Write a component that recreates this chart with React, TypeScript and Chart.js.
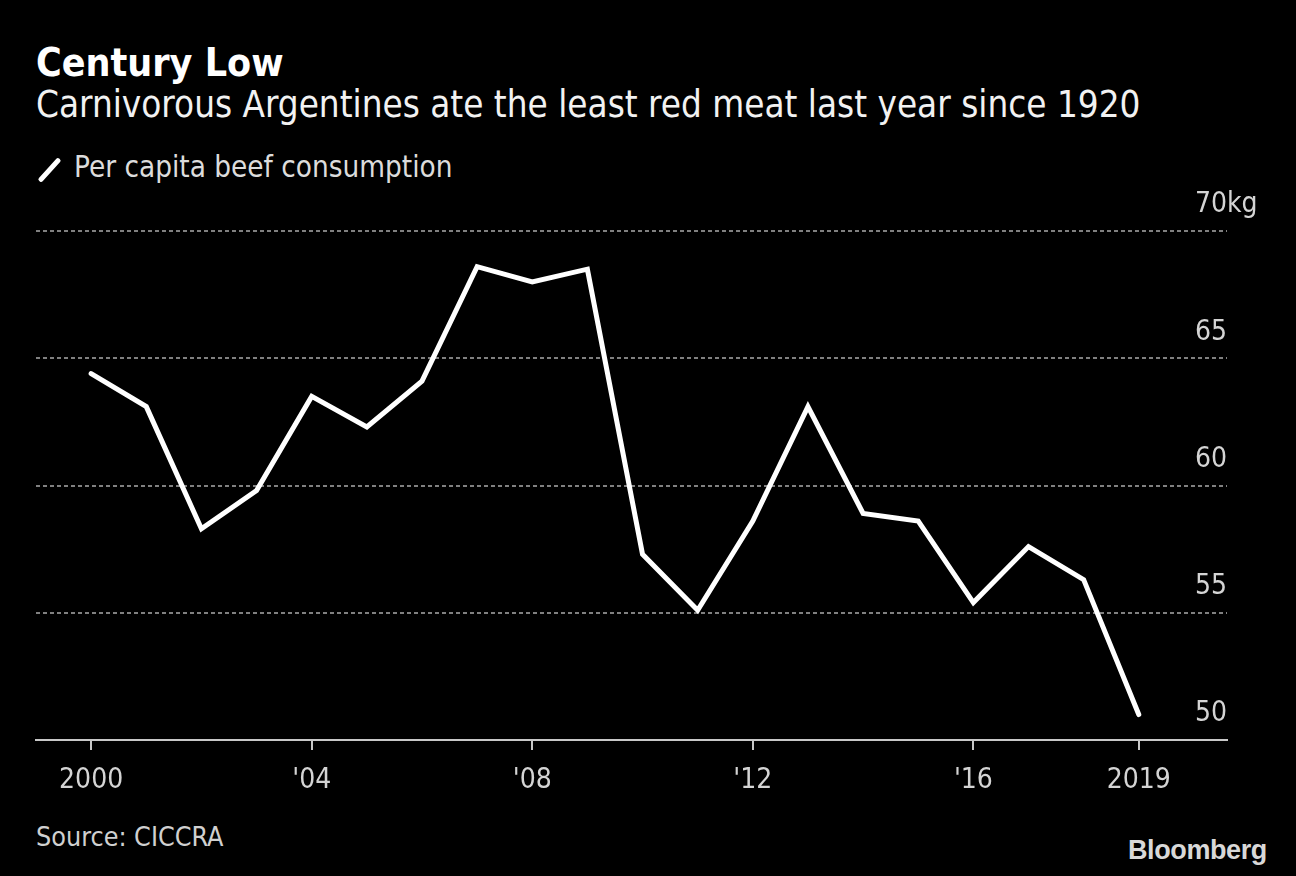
import React, { useEffect, useRef } from "react";
import { Chart, registerables } from "chart.js";

Chart.register(...registerables);

const years = [2000, 2001, 2002, 2003, 2004, 2005, 2006, 2007, 2008, 2009, 2010, 2011, 2012, 2013, 2014, 2015, 2016, 2017, 2018, 2019];
const beefKg = [64.4, 63.1, 58.3, 59.8, 63.5, 62.3, 64.1, 68.6, 68.0, 68.5, 57.3, 55.1, 58.6, 63.1, 58.9, 58.6, 55.4, 57.6, 56.3, 51.0];
const xTickValues = [2000, 2004, 2008, 2012, 2016, 2019];
const xTickLabels = ["2000", "'04", "'08", "'12", "'16", "2019"];
const yTickValues = [50, 55, 60, 65, 70];

const FONT = "'DejaVu Sans Condensed', 'DejaVu Sans', sans-serif";

const kgPlugin = {
  id: "kgSuffix",
  afterDraw(chart: any) {
    const y = chart.scales.y;
    const ctx = chart.ctx;
    ctx.save();
    ctx.font = `28px ${FONT}`;
    ctx.fillStyle = "#d4d4d4";
    ctx.textAlign = "left";
    ctx.textBaseline = "middle";
    ctx.fillText("kg", chart.chartArea.right, y.getPixelForValue(70) - 26);
    ctx.restore();
  },
};

export default function App() {
  const ref = useRef<HTMLCanvasElement>(null);
  useEffect(() => {
    if (!ref.current) return;
    const chart = new Chart(ref.current, {
      type: "line",
      data: {
        datasets: [
          {
            label: "Per capita beef consumption",
            data: years.map((yr, i) => ({ x: yr, y: beefKg[i] })),
            borderColor: "#ffffff",
            borderWidth: 5,
            pointRadius: 0,
            tension: 0,
            borderJoinStyle: "miter",
            borderCapStyle: "round",
          },
        ],
      },
      options: {
        responsive: false,
        animation: false,
        layout: { padding: { left: 36, right: 69, top: 51, bottom: 20 } },
        plugins: { legend: { display: false }, tooltip: { enabled: false } },
        scales: {
          x: {
            type: "linear",
            min: 1999,
            max: 2020.6,
            afterBuildTicks: (axis: any) => {
              axis.ticks = xTickValues.map((v) => ({ value: v }));
            },
            afterFit: (axis: any) => {
              axis.height = 60;
            },
            grid: { drawOnChartArea: false, drawTicks: true, tickLength: 10, color: "#c8c8c8", lineWidth: 2 },
            border: { display: true, color: "#c8c8c8", width: 2 },
            ticks: {
              autoSkip: false,
              maxRotation: 0,
              padding: 14,
              color: "#d4d4d4",
              font: { family: FONT, size: 28 },
              callback: (v: any) => {
                const i = xTickValues.indexOf(Number(v));
                return i >= 0 ? xTickLabels[i] : "";
              },
            },
          },
          y: {
            position: "right",
            min: 50,
            max: 70,
            afterBuildTicks: (axis: any) => {
              axis.ticks = yTickValues.map((v) => ({ value: v }));
            },
            afterFit: (axis: any) => {
              axis.width = 0;
            },
            grid: {
              drawTicks: false,
              color: (c: any) => (c.tick && c.tick.value === 50 ? "rgba(0,0,0,0)" : "#808080"),
              lineWidth: 2,
            },
            border: { display: false, dash: [4, 3] },
            ticks: {
              mirror: true,
              padding: 0,
              labelOffset: -26,
              color: "#d4d4d4",
              font: { family: FONT, size: 28 },
              callback: (v: any) => String(v),
            },
          },
        },
      },
      plugins: [kgPlugin],
    } as any);
    return () => chart.destroy();
  }, []);

  const base: React.CSSProperties = { position: "absolute", whiteSpace: "nowrap", fontFamily: FONT, margin: 0 };

  return (
    <div style={{ position: "absolute", top: 0, left: 0, width: 1296, height: 876, background: "#000", overflow: "hidden" }}>
      <div style={{ ...base, left: 36, top: 40, fontSize: 39, fontWeight: "bold", color: "#fff", lineHeight: "46px" }}>Century Low</div>
      <div style={{ ...base, left: 36, top: 85, fontSize: 36.5, color: "#f2f2f2", lineHeight: "40px" }}>
        Carnivorous Argentines ate the least red meat last year since 1920
      </div>
      <div style={{ position: "absolute", left: 37, top: 156, width: 26, height: 26 }}>
        <div style={{ position: "absolute", left: 10, top: -1, width: 5, height: 30, background: "#fff", transform: "rotate(42deg)", borderRadius: 2 }} />
      </div>
      <div style={{ ...base, left: 74, top: 150, fontSize: 29.4, color: "#dcdcdc", lineHeight: "34px" }}>Per capita beef consumption</div>
      <div style={{ position: "absolute", left: 0, top: 180, width: 1296, height: 640 }}>
        <canvas ref={ref} width={1296} height={640} style={{ display: "block" }} />
      </div>
      <div style={{ ...base, left: 36, top: 821, fontSize: 26.7, color: "#d0d0d0", lineHeight: "32px" }}>Source: CICCRA</div>
      <div style={{ ...base, left: 1128, top: 834, fontSize: 27, fontWeight: "bold", color: "#d8d8d8", lineHeight: "32px", fontFamily: "'Liberation Sans', Arial, sans-serif", letterSpacing: "-0.4px" }}>
        Bloomberg
      </div>
    </div>
  );
}
